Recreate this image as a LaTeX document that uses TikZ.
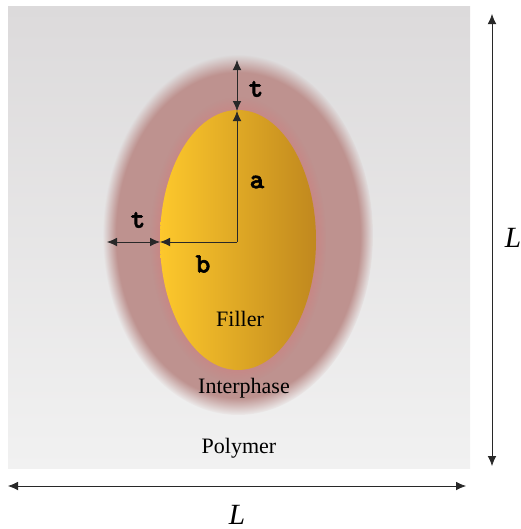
\documentclass[tikz,border=0pt]{standalone}
\usepackage{fontspec}
\setmainfont{Liberation Serif}
\newfontfamily\symfont{lmmonolt10-bold.otf}[FakeBold=2]
\usetikzlibrary{arrows.meta,fadings}
\definecolor{bgtop}{RGB}{220,218,219}
\definecolor{bgbot}{RGB}{241,241,241}
\definecolor{interph}{RGB}{190,146,143}
\definecolor{glow}{RGB}{214,120,120}
\definecolor{fillA}{RGB}{253,200,44}
\definecolor{fillB}{RGB}{240,178,36}
\definecolor{fillC}{RGB}{192,136,30}
\definecolor{dimline}{RGB}{40,40,40}
\pgfdeclareradialshading{softedgeshade}{\pgfpointorigin}{color(0bp)=(pgftransparent!0); color(22.5bp)=(pgftransparent!0); color(25bp)=(pgftransparent!100); color(50bp)=(pgftransparent!100)}
\pgfdeclarefading{softedge}{\pgfuseshading{softedgeshade}}
\tikzset{
  dim/.style={draw=dimline, line width=0.6pt},
  sym/.style={font=\symfont\fontsize{21}{24}\selectfont},
  region/.style={font=\fontsize{16.5}{20}\selectfont},
  len/.style={font=\itshape\fontsize{22}{26}\selectfont},
}
\begin{document}
\begin{tikzpicture}[x=0.75pt,y=-0.75pt,>={Latex[length=7.5pt,width=6.5pt]}]
	\useasboundingbox (0,0) rectangle (521,529);
	% polymer matrix
	\shade[top color=bgtop, bottom color=bgbot] (8,6) rectangle (470,468);
	% interphase and filler
	\fill[interph, path fading=softedge] (238,235) ellipse [x radius=135, y radius=180];
	\fill[glow, opacity=0.35, path fading=softedge] (238,240) ellipse [x radius=88, y radius=143];
	\shade[left color=fillA, middle color=fillB, right color=fillC] (238,240) ellipse [x radius=78, y radius=130];
	\coordinate (c) at (237,242);
	\coordinate (ftop) at (237,111);
	\coordinate (itop) at (237,60);
	\coordinate (fleft) at (160,242);
	\coordinate (ileft) at (107,242);
	\draw[dim,->] (c) -- (ftop);
	\draw[dim,<->] (ftop) -- (itop);
	\draw[dim,->] (c) -- (fleft);
	\draw[dim,<->] (fleft) -- (ileft);
	\node[sym] (ttop) at (256,89) {t};
	\node[sym] (a) at (257,182) {a};
	\node[sym] (tleft) at (138,220) {t};
	\node[sym] (b) at (203,264) {b};
	\node[region] (filler) at (240,319) {Filler};
	\node[region] (inter) at (244,388) {Interphase};
	\node[region] (poly) at (239,448) {Polymer};
	% box size
	\coordinate (bl) at (8,486);  \coordinate (br) at (466,486);
	\coordinate (rt) at (492,14); \coordinate (rb) at (492,466);
	\draw[dim,<->] (bl) -- (br);
	\draw[dim,<->] (rt) -- (rb);
	\node[len] (lbot) at (237,515) {L};
	\node[len] (lright) at (513,238) {L};
\end{tikzpicture}
\end{document}
